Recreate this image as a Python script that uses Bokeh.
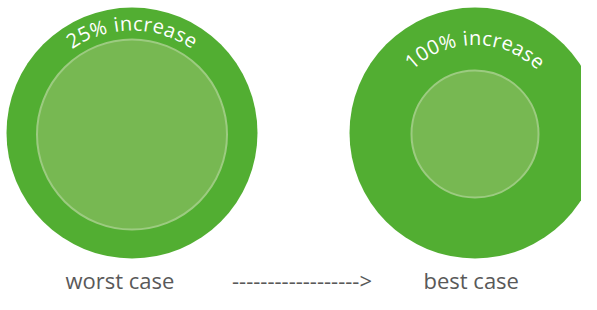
import math
from bokeh.plotting import figure
from bokeh.models import ColumnDataSource, Range1d
from bokeh.core.properties import value
from bokeh.embed import file_html
from bokeh.resources import INLINE

# ---- chart values ----
scenarios = ["worst case", "best case"]
center_x = [131.5, 474.5]
center_y = [132.5, 132.5]
outer_radius = [125.5, 125.5]
inner_radius = [95.0, 63.5]
inner_center_y = [134.0, 133.5]
labels = ["25% increase", "100% increase"]
label_radius = [110.0, 95.5]
axis_left = "worst case"
arrow_text = "------------------>"
axis_right = "best case"

# ---- style ----
OUTER = "#52ae32"
INNER = "#77b852"
INNER_LINE = "#9ccb80"
FONT = "Open Sans"
ARC_FONT_PX = 20
ARC_SPACING = 1.2
EM = {"0": .5718, "1": .5718, "2": .5718, "5": .5718, "%": .831, " ": .2598,
      "i": .2529, "n": .6138, "c": .476, "r": .408, "e": .561, "a": .556, "s": .477}

p = figure(width=581, height=294, x_range=Range1d(0, 581), y_range=Range1d(294, 0),
           output_backend="svg", toolbar_location=None, min_border=0,
           x_axis_type=None, y_axis_type=None)
p.grid.visible = False
p.outline_line_color = None
p.background_fill_color = "white"
p.border_fill_color = "white"

outer_src = ColumnDataSource(dict(x=center_x, y=center_y, r=outer_radius))
inner_src = ColumnDataSource(dict(x=center_x, y=inner_center_y, r=inner_radius))
p.circle(x="x", y="y", radius="r", source=outer_src, fill_color=OUTER, line_color=None)
p.circle(x="x", y="y", radius="r", source=inner_src, fill_color=INNER,
         line_color=INNER_LINE, line_width=2)

# curved labels, one glyph per character along an arc
cx_, cy_, ct_, ca_ = [], [], [], []
for cx, cy, r, lab in zip(center_x, center_y, label_radius, labels):
    widths = [EM.get(c, .55) * ARC_FONT_PX for c in lab]
    total = sum(widths) + ARC_SPACING * (len(lab) - 1)
    s = 0.0
    for ch, w in zip(lab, widths):
        mid = s + w / 2 - total / 2
        a = mid / r
        cx_.append(cx + r * math.sin(a))
        cy_.append(cy - r * math.cos(a))
        ct_.append(ch)
        ca_.append(-a)
        s += w + ARC_SPACING

arc_src = ColumnDataSource(dict(x=cx_, y=cy_, text=ct_, angle=ca_))
p.text(x="x", y="y", text="text", angle="angle", source=arc_src,
       text_color="white", text_font=value(FONT), text_font_size=f"{ARC_FONT_PX}px",
       text_align="center", text_baseline="alphabetic")

bottom_src = ColumnDataSource(dict(
    x=[65, 301.5, 423], y=[279, 279, 279],
    text=[axis_left, arrow_text, axis_right],
    align=["left", "center", "left"]))
p.text(x="x", y="y", text="text", source=bottom_src, text_align="align",
       text_color="#595959", text_font=value(FONT), text_font_size="22px",
       text_baseline="alphabetic")

open("out.html", "w").write(file_html(p, INLINE))
